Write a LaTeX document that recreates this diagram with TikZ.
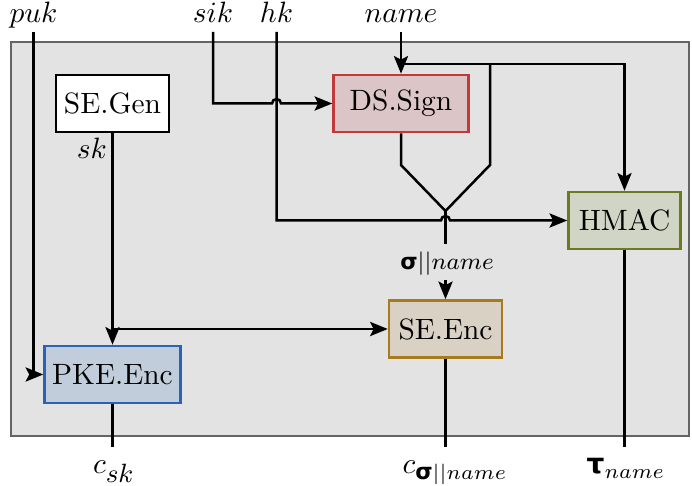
\documentclass[tikz,border=0pt]{standalone}
\usepackage{amsmath}
\usepackage{fontspec}
\newfontfamily\grk{DejaVu Sans}[Scale=0.95]
\usetikzlibrary{arrows.meta,calc}
\definecolor{bggray}{RGB}{227,227,227}
\definecolor{bgline}{RGB}{100,100,100}
\definecolor{dsfill}{RGB}{220,197,198}
\definecolor{dsline}{RGB}{192,57,59}
\definecolor{hmfill}{RGB}{209,213,197}
\definecolor{hmline}{RGB}{107,122,31}
\definecolor{sefill}{RGB}{217,209,196}
\definecolor{seline}{RGB}{168,122,30}
\definecolor{pkfill}{RGB}{193,205,219}
\definecolor{pkline}{RGB}{42,98,181}
\newcommand{\gsig}{\text{\grk\bfseries σ}}
\newcommand{\gsigsub}{\text{\footnotesize\grk\bfseries σ}}
\newcommand{\gtau}{\text{\grk\bfseries τ}}
\tikzset{
  box/.style={draw, line width=0.85pt, minimum height=19.4pt, inner sep=0pt},
  lbl/.style={inner sep=1pt, text height=7pt, text depth=2pt},
  wire/.style={line width=0.85pt},
  arr/.style={wire, -{Stealth[length=6pt,width=4.8pt,inset=1.2pt]}}
}
\begin{document}
\begin{tikzpicture}[x=0.34pt, y=-0.34pt]
\useasboundingbox (0,0) rectangle (692,486);
\filldraw[fill=bggray, draw=bgline, line width=0.4pt] (11,42) rectangle (689,436);

% boxes
\node[box, fill=white, minimum width=38.4pt] (segen) at (112.5,103.5) {SE.Gen};
\node[box, fill=dsfill, draw=dsline, minimum width=45.9pt] (ds) at (401,103.5) {DS.Sign};
\node[box, fill=hmfill, draw=hmline, minimum width=38.1pt] (hmac) at (624.5,220.5) {HMAC};
\node[box, fill=sefill, draw=seline, minimum width=38.4pt] (seenc) at (445.5,329) {SE.Enc};
\node[box, fill=pkfill, draw=pkline, minimum width=46.2pt] (pke) at (112.5,374.5) {PKE.Enc};

% input labels
\node[lbl, anchor=south] (puk) at (33.5,32) {$puk$};
\node[lbl, anchor=south] (sik) at (213,32) {$sik$};
\node[lbl, anchor=south] (hk) at (276.5,32) {$hk$};
\node[lbl, anchor=south] (name) at (401,32) {$name$};

% junction coordinates
\coordinate (nt) at (401,64);
\coordinate (nb) at (490,64);
\coordinate (nbk) at (490,165);
\coordinate (sj) at (445.5,211);

% sigma label
\node[font=\footnotesize, inner sep=1pt, text height=7.5pt, text depth=2.5pt, minimum height=12pt] (sig) at (447,262) {$\gsig||name$};

% wires
\draw[arr] (puk.south) |- (pke.west);
\draw[arr] (sik.south) |- ($(hk.south |- ds.west)+(-4.5,0)$)
   arc[start angle=180, end angle=360, radius=4.5] -- (ds.west);
\draw[arr] (hk.south) |- ($(sj |- hmac.west)+(-4.5,0)$)
   arc[start angle=180, end angle=360, radius=4.5] -- (hmac.west);
\draw[arr] (name.south) -- (ds.north);
\draw[arr] (nt) -| (hmac.north);
\draw[wire] (nb) -- (nbk) -- (sj);
\draw[wire] (ds.south) -- (ds.south |- nbk) -- (sj);
\draw[wire] (sj) -- (sj |- sig.north);
\draw[arr] (sj |- sig.south) -- (seenc.north);
\draw[arr] (segen.south) -- (pke.north);
\draw[arr] (segen.south |- seenc.west) -- (seenc.west);
\node[inner sep=1pt, anchor=north east] (sk) at ($(segen.south)+(-2,1)$) {$sk$};

% outputs
\coordinate (o1) at (112.5,447);
\coordinate (o2) at (445.5,447);
\coordinate (o3) at (624.5,447);
\draw[wire] (pke.south) -- (o1);
\draw[wire] (seenc.south) -- (o2);
\draw[wire] (hmac.south) -- (o3);
\node[anchor=base, inner sep=0pt] (csk) at (114,474) {$c_{\text{\small$sk$}}$};
\node[anchor=base, inner sep=0pt] (csig) at (455,474) {$c_{\gsigsub||name}$};
\node[anchor=base, inner sep=0pt] (tau) at (626,474) {$\gtau_{name}$};
\end{tikzpicture}
\end{document}
